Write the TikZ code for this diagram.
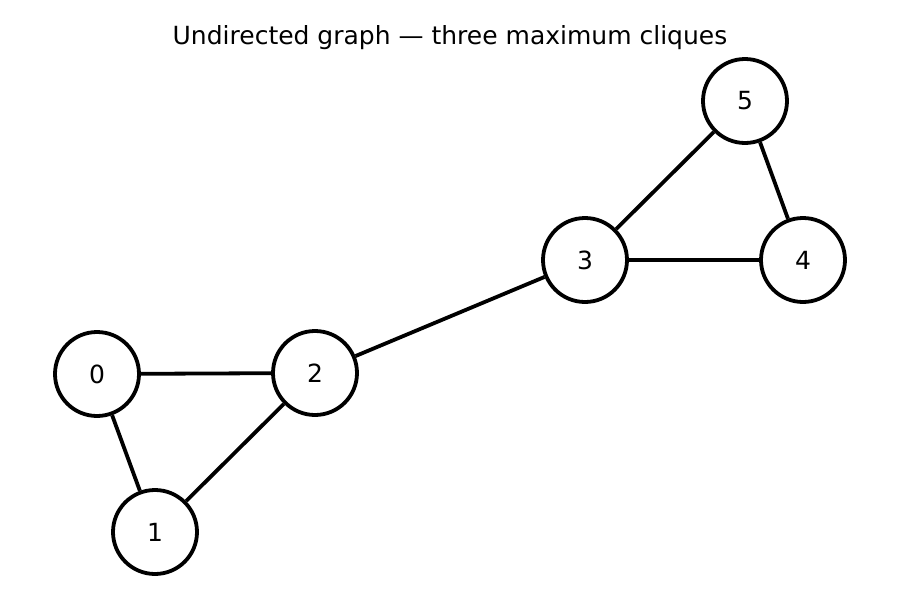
\documentclass[tikz,border=0pt]{standalone}
\usepackage{fontspec}
\setmainfont{DejaVu Sans}
\begin{document}
\begin{tikzpicture}[x=1pt,y=-1pt,
  vtx/.style={circle,draw=black,line width=3.8pt,fill=white,minimum size=84pt,inner sep=0pt,font=\fontsize{25}{30}\selectfont},
  edge/.style={line width=3.8pt,black}]
\useasboundingbox (0,0) rectangle (900,600);
\node[font=\fontsize{25}{30}\selectfont] (title) at (450,37.5) {Undirected graph — three maximum cliques};
\node[vtx] (n0) at (97,374) {0};
\node[vtx] (n1) at (155,532) {1};
\node[vtx] (n2) at (315,373) {2};
\node[vtx] (n3) at (585,260) {3};
\node[vtx] (n4) at (803,260) {4};
\node[vtx] (n5) at (745,101) {5};
\draw[edge] (n0) -- (n2);
\draw[edge] (n0) -- (n1);
\draw[edge] (n1) -- (n2);
\draw[edge] (n2) -- (n3);
\draw[edge] (n3) -- (n4);
\draw[edge] (n3) -- (n5);
\draw[edge] (n4) -- (n5);
\end{tikzpicture}
\end{document}
